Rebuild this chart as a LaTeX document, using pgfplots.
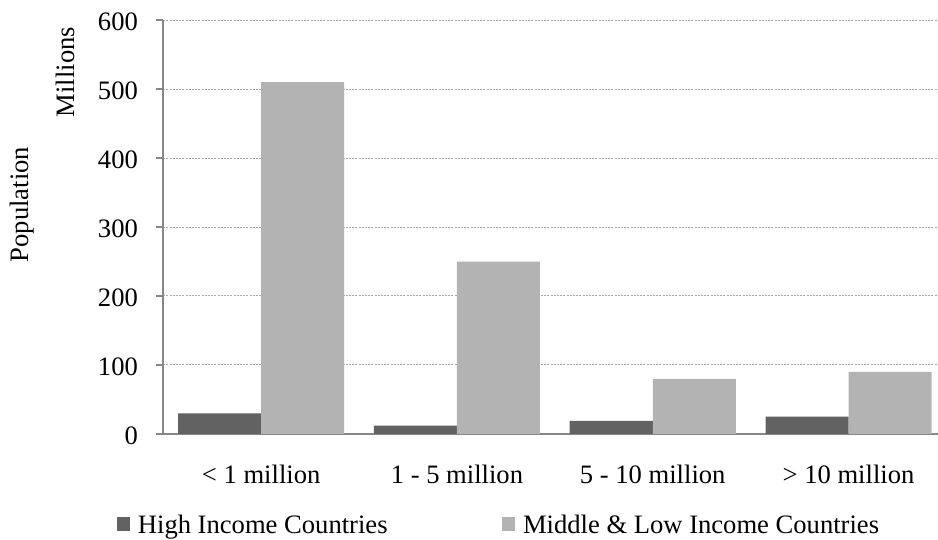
\documentclass[border=0pt]{standalone}
\usepackage{fontspec}
\setmainfont{Liberation Serif}
\usepackage{pgfplots}
\pgfplotsset{compat=1.18}

\definecolor{highinc}{HTML}{626262}
\definecolor{lowinc}{HTML}{B3B3B3}
\definecolor{axisgray}{HTML}{878787}
\definecolor{gridgray}{HTML}{A8A8A8}

\newcommand\chartfont{\fontsize{13.3pt}{16pt}\selectfont}

\begin{document}
\begin{tikzpicture}[font=\chartfont]
\begin{axis}[
  at={(81.65pt,53pt)}, anchor=south west,
  width=387.35pt, height=207pt, scale only axis,
  xmin=-0.5, xmax=3.457, ymin=0, ymax=600,
  axis x line=bottom, axis y line=left,
  axis line style={-, axisgray, line width=0.8pt},
  tick align=outside,
  major tick length=3.5pt,
  tick style={axisgray, line width=0.8pt},
  /pgf/number format/assume math mode=true,
  ytick={0,100,...,600},
  ymajorgrids,
  major grid style={gridgray, line width=0.5pt, dash pattern=on 1pt off 0.6pt},
  yticklabel style={font=\chartfont, anchor=east, inner sep=0pt, xshift=-9pt, yshift=-1pt},
  xtick={0,1,2,3},
  xticklabels={{< 1 million},{1 - 5 million},{5 - 10 million},{> 10 million}},
  xticklabel style={font=\chartfont, anchor=base, inner sep=0pt, yshift=-21.5pt},
  major x tick style={draw=none},
  extra x ticks={-0.5,0.5,1.5,2.5},
  extra x tick labels={},
  extra x tick style={major tick style={draw=axisgray}, xmajorgrids=false},
  ylabel={Population},
  ylabel style={at={(axis description cs:-0.1739,0.5543)}, anchor=base, rotate=0, inner sep=0pt},
  ybar, bar width=0.424,
  legend columns=2,
  legend style={draw=none, fill=none, font=\chartfont,
    at={(axis description cs:-0.0609,0)}, anchor=north west, yshift=-40.5pt,
    inner sep=0pt, nodes={inner sep=0pt},
    /tikz/every odd column/.append style={column sep=4pt},
    /tikz/every even column/.append style={column sep=57pt}},
  legend image code/.code={\fill[#1] (0pt,-2.3pt) rectangle (6.7pt,4.4pt);},
  clip=false,
]
% High-income group sits left of each category centre, the other group right
\addplot[fill=highinc, draw=none, bar shift=-0.212] coordinates {(0,30) (1,12) (2,19) (3,25)};
\addlegendentry{High Income Countries}
\addplot[fill=lowinc, draw=none, bar shift=0.212] coordinates {(0,510) (1,250) (2,80) (3,90)};
\addlegendentry{Middle \& Low Income Countries}
\node[rotate=90, anchor=base, inner sep=0pt] at (axis description cs:-0.114,0.8744) {Millions};
\end{axis}
\pgfresetboundingbox
\useasboundingbox (0,0) rectangle (469pt,270pt);
\end{tikzpicture}
\end{document}
